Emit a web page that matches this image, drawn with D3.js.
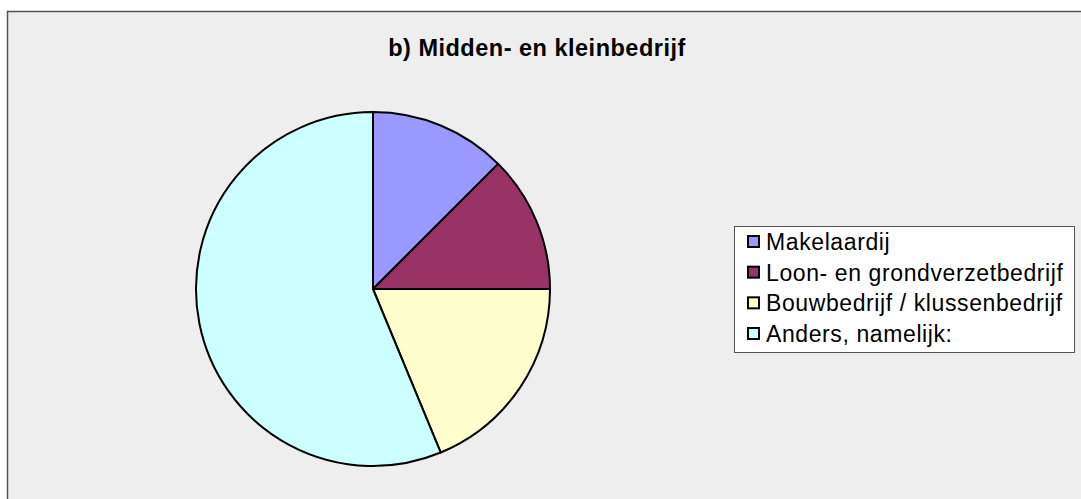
<!DOCTYPE html>
<html>
<head>
<meta charset="utf-8">
<script src="https://cdn.jsdelivr.net/npm/d3@7"></script>
<style>
body { margin: 0; background: #fff; }
svg { display: block; font-family: "Liberation Sans", Arial, sans-serif; }
</style>
</head>
<body>
<svg></svg>
<script>
// slices, clockwise from 12 o'clock
var categories = ["Makelaardij", "Loon- en grondverzetbedrijf", "Bouwbedrijf / klussenbedrijf", "Anders, namelijk:"];
var values = [2, 2, 3, 9];
var colors = ["#9999ff", "#993366", "#ffffcc", "#ccffff"];
var title = "b) Midden- en kleinbedrijf";

var width = 1081, height = 499;
var svg = d3.select("svg").attr("width", width).attr("height", height);

// chart area frame (right/bottom edges run off the page)
svg.append("rect")
    .attr("x", 7.5).attr("y", 11.5)
    .attr("width", width + 10).attr("height", height + 10)
    .style("fill", "#eeeeee")
    .style("stroke", "#555")
    .style("stroke-width", 1.5);

svg.append("text")
    .attr("x", 537).attr("y", 56)
    .attr("text-anchor", "middle")
    .style("font-size", "23.5px")
    .style("font-weight", "bold")
    .style("letter-spacing", "0.5px")
    .text(title);

var cx = 373, cy = 289, r = 177;

var pie = d3.pie().sort(null).value(function(d) { return d; });
var arc = d3.arc().innerRadius(0).outerRadius(r);

var g = svg.append("g").attr("transform", "translate(" + cx + "," + cy + ")");
g.selectAll("path")
    .data(pie(values))
    .enter().append("path")
    .attr("d", arc)
    .style("fill", function(d, i) { return colors[i]; })
    .style("stroke", "#000")
    .style("stroke-width", 2)
    .style("stroke-linejoin", "round");

// legend
var legend = svg.append("g");
legend.append("rect")
    .attr("x", 734.5).attr("y", 226.5)
    .attr("width", 340).attr("height", 126)
    .style("fill", "#fff")
    .style("stroke", "#555")
    .style("stroke-width", 1);

var rowY = d3.scalePoint().domain(categories).range([250, 342]);

var rows = legend.selectAll("g.row")
    .data(categories)
    .enter().append("g")
    .attr("class", "row")
    .attr("transform", function(d) { return "translate(0," + rowY(d) + ")"; });

rows.append("rect")
    .attr("x", 748).attr("y", -14)
    .attr("width", 11).attr("height", 11)
    .style("fill", function(d, i) { return colors[i]; })
    .style("stroke", "#000")
    .style("stroke-width", 2);

rows.append("text")
    .attr("x", 766).attr("y", 0)
    .style("font-size", "23px")
    .style("letter-spacing", "0.6px")
    .text(function(d) { return d; });
</script>
</body>
</html>
